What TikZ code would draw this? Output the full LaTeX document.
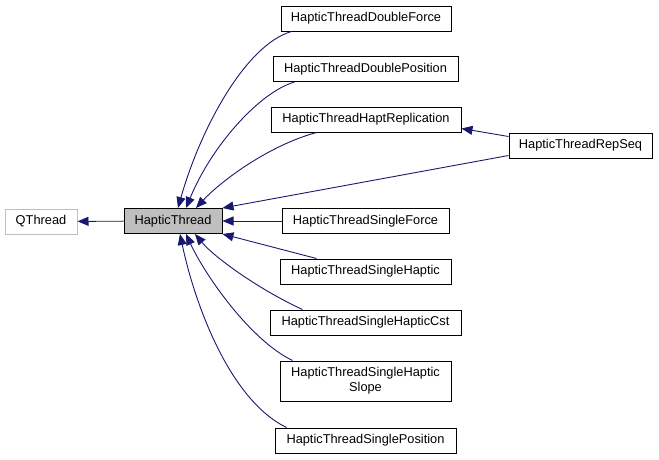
\documentclass[tikz,border=0pt]{standalone}
\usepackage{fontspec}
\setmainfont{Liberation Sans}
\usetikzlibrary{arrows.meta}
\definecolor{edgeblue}{RGB}{25, 25, 112}
\definecolor{basegrey}{RGB}{191, 191, 191}

\begin{document}
\begin{tikzpicture}[x=1pt, y=-1pt,
    classbox/.style={draw, line width=1pt, minimum height=25pt, inner xsep=0pt, inner ysep=0pt,
        font=\fontsize{12.8}{15}\selectfont, align=center},
    inherit/.style={edgeblue, line width=0.9pt, -{Triangle[length=11pt, width=9pt]}}]
    \useasboundingbox (0, 0) rectangle (659, 459);

    % base classes
    \node[classbox, draw=basegrey, minimum width=72pt] (qthread) at (41, 221.5) {QThread};
    \node[classbox, fill=basegrey, minimum width=98pt] (hthread) at (173, 221) {HapticThread};

    % derived classes
    \node[classbox, minimum width=170pt] (dforce) at (366, 18.5) {HapticThreadDoubleForce};
    \node[classbox, minimum width=185pt] (dpos) at (365.5, 69) {HapticThreadDoublePosition};
    \node[classbox, minimum width=190pt] (hrep) at (366, 119.5) {HapticThreadHaptReplication};
    \node[classbox, minimum width=143pt] (repseq) at (580.5, 145.5) {HapticThreadRepSeq};
    \node[classbox, minimum width=167pt] (sforce) at (365.5, 221) {HapticThreadSingleForce};
    \node[classbox, minimum width=171pt] (shap) at (365.5, 271.5) {HapticThreadSingleHaptic};
    \node[classbox, minimum width=191pt] (scst) at (365.5, 322.5) {HapticThreadSingleHapticCst};
    \node[classbox, minimum width=171pt, minimum height=40pt] (sslope) at (365.5, 381) {HapticThreadSingleHaptic\\Slope};
    \node[classbox, minimum width=181pt] (spos) at (365.5, 440.5) {HapticThreadSinglePosition};

    % inheritance edges
    \draw[inherit] (hthread) -- (qthread);
    \draw[inherit] ([xshift=11pt]dforce.south west) .. controls (245, 45) and (200, 130) .. ([xshift=5pt]hthread.north);
    \draw[inherit] ([xshift=22pt]dpos.south west) .. controls (260, 92) and (212, 145) .. ([xshift=13pt]hthread.north);
    \draw[inherit] ([xshift=46pt]hrep.south west) .. controls (270, 145) and (222, 180) .. ([xshift=23pt]hthread.north);
    \draw[inherit] ([yshift=3pt]repseq.south west) -- (hthread.north east);
    \draw[inherit] ([yshift=-4pt]repseq.north west) -- ([yshift=4pt]hrep.south east);
    \draw[inherit] (sforce) -- (hthread);
    \draw[inherit] ([xshift=37pt]shap.north west) -- (hthread.south east);
    \draw[inherit] ([xshift=33pt]scst.north west) .. controls (260, 290) and (215, 258) .. ([xshift=22pt]hthread.south);
    \draw[inherit] ([xshift=13pt]sslope.north west) .. controls (250, 340) and (205, 275) .. ([xshift=13pt]hthread.south);
    \draw[inherit] ([xshift=12pt]spos.north west) .. controls (230, 400) and (195, 305) .. ([xshift=7pt]hthread.south);
\end{tikzpicture}
\end{document}
